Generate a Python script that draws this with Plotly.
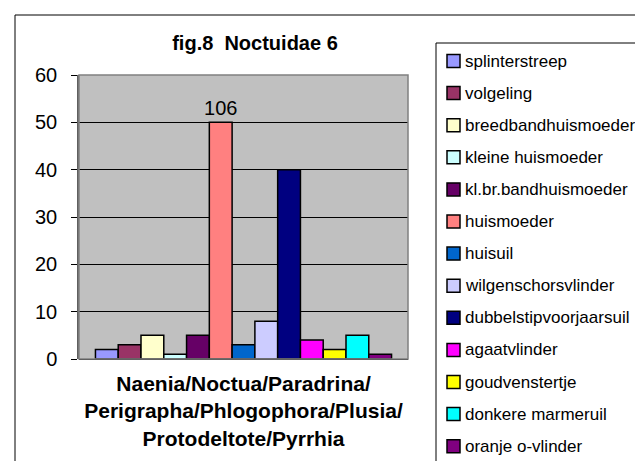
import plotly.graph_objects as go

# Data
category = ["Naenia/Noctua/Paradrina/<br>Perigrapha/Phlogophora/Plusia/<br>Protodeltote/Pyrrhia"]
species = [
    "splinterstreep", "volgeling", "breedbandhuismoeder", "kleine huismoeder",
    "kl.br.bandhuismoeder", "huismoeder", "huisuil", "wilgenschorsvlinder",
    "dubbelstipvoorjaarsuil", "agaatvlinder", "goudvenstertje",
    "donkere marmeruil", "oranje o-vlinder",
]
counts = [2, 3, 5, 1, 5, 50, 3, 8, 40, 4, 2, 5, 1]   # huismoeder bar is cut off at 50
bar_labels = ["", "", "", "", "", "106", "", "", "", "", "", "", ""]
colors = [
    "#9999FF", "#993366", "#FFFFCC", "#CCFFFF", "#660066", "#FF8080", "#0066CC",
    "#CCCCFF", "#000080", "#FF00FF", "#FFFF00", "#00FFFF", "#800080",
]
y_ticks = [0, 10, 20, 30, 40, 50, 60]

FONT = "Arial, Liberation Sans, sans-serif"
W, H = 643, 461
L, R, T, B = 71, 400, 67, 351  # plot area in pixels


def px_x(p):
    return (p - L) / (R - L)


def px_y(p):
    return (B - p) / (B - T)


fig = go.Figure()
for name, val, lab, col in zip(species, counts, bar_labels, colors):
    fig.add_trace(go.Bar(
        x=category, y=[val], name=name,
        marker=dict(color=col, line=dict(color="black", width=1.5)),
        text=[lab], textposition="outside", cliponaxis=False, constraintext="none",
        textfont=dict(family=FONT, size=20, color="black"),
        showlegend=False,
    ))

shapes = []
annotations = []
# outer chart frame
shapes.append(dict(type="rect", xref="paper", yref="paper",
                   x0=px_x(7), x1=px_x(660), y0=px_y(480), y1=px_y(7),
                   line=dict(color="black", width=1), layer="below"))
# plot area frame
shapes.append(dict(type="rect", xref="paper", yref="paper",
                   x0=0, x1=1, y0=0, y1=1,
                   line=dict(color="#808080", width=1.5), layer="above"))
# legend box
shapes.append(dict(type="rect", xref="paper", yref="paper",
                   x0=px_x(428), x1=px_x(660), y0=px_y(459), y1=px_y(35),
                   line=dict(color="black", width=1)))
# legend entries
for i, (name, col) in enumerate(zip(species, colors)):
    yc = 53 + 32.1 * i
    shapes.append(dict(type="rect", xref="paper", yref="paper",
                       x0=px_x(439), x1=px_x(452), y0=px_y(yc + 6.5), y1=px_y(yc - 6.5),
                       fillcolor=col, line=dict(color="black", width=1.5)))
    annotations.append(dict(xref="paper", yref="paper", x=px_x(455), y=px_y(yc),
                            xanchor="left", yanchor="middle", showarrow=False,
                            text=name, font=dict(family=FONT, size=17, color="black")))

fig.update_layout(
    width=W, height=H,
    margin=dict(l=L, r=W - R, t=T, b=H - B, pad=0),
    paper_bgcolor="white", plot_bgcolor="#C0C0C0",
    barmode="group", bargap=0.1, bargroupgap=0,
    font=dict(family=FONT, color="black"),
    title=dict(text="fig.8\u00a0 Noctuidae 6", x=247 / W, xanchor="center",
               y=1 - 35 / H, yanchor="middle",
               font=dict(family=FONT, size=20, color="black", weight="bold")),
    xaxis=dict(showgrid=False, showline=False, ticks="",
               tickfont=dict(family=FONT, size=21, color="black", weight="bold"),
               ticklabelstandoff=10),
    yaxis=dict(range=[0, 60], tickvals=y_ticks, showgrid=True, gridcolor="black",
               gridwidth=1, zeroline=True, zerolinecolor="black", zerolinewidth=1,
               showline=True, linecolor="#606060", linewidth=1.5,
               ticks="outside", ticklen=6, tickcolor="black",
               tickfont=dict(family=FONT, size=20, color="black"),
               ticklabelstandoff=10),
    shapes=shapes, annotations=annotations,
)

fig.write_html("out.html")
